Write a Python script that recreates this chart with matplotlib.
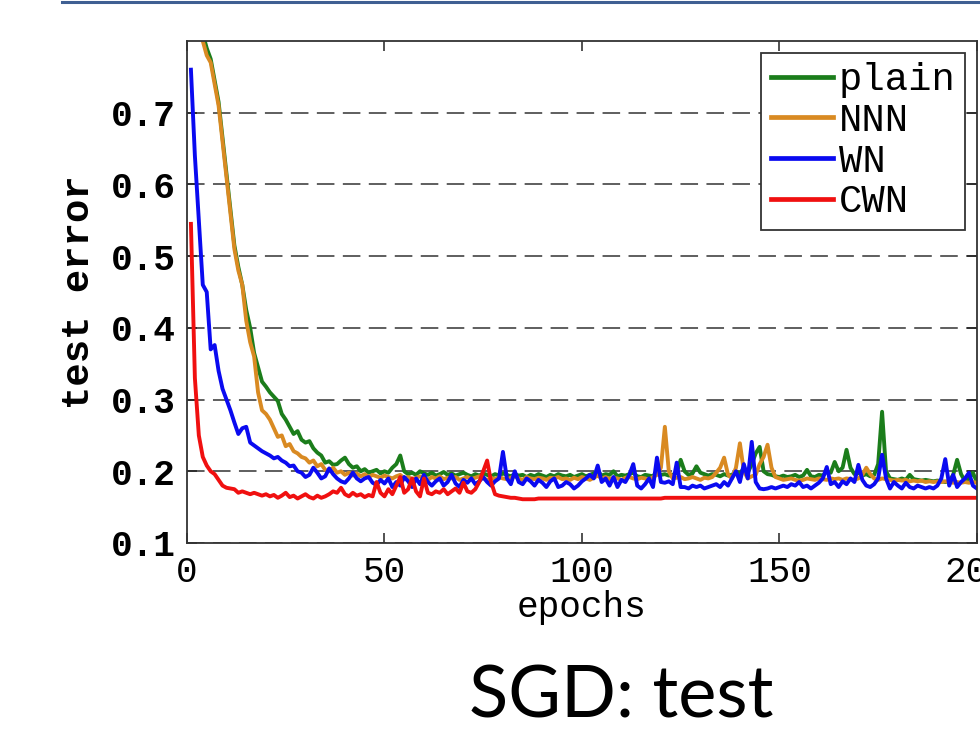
import numpy as np
import matplotlib
matplotlib.use('Agg')
import matplotlib.pyplot as plt
from matplotlib.lines import Line2D


###########################################################################
# data: test error per epoch (epochs 1..200)
###########################################################################
epochs = list(range(1, 201))

plain = [
    0.95, 0.90, 0.85, 0.81, 0.79, 0.775, 0.745, 0.715, 0.665, 0.615,
    0.565, 0.515, 0.485, 0.46, 0.425, 0.40, 0.365, 0.345, 0.325, 0.318,
    0.31, 0.304, 0.298, 0.28, 0.272, 0.262, 0.252, 0.256, 0.244, 0.24,
    0.242, 0.232, 0.226, 0.222, 0.212, 0.214, 0.209, 0.21, 0.215, 0.219,
    0.21, 0.205, 0.207, 0.20, 0.203, 0.198, 0.20, 0.202, 0.197, 0.20,
    0.198, 0.205, 0.21, 0.222, 0.20, 0.196, 0.198, 0.195, 0.20, 0.197,
    0.195, 0.198, 0.194, 0.196, 0.199, 0.195, 0.197, 0.194, 0.196, 0.198,
    0.195, 0.193, 0.196, 0.194, 0.197, 0.195, 0.193, 0.196, 0.194, 0.197,
    0.195, 0.193, 0.196, 0.194, 0.195, 0.192, 0.195, 0.193, 0.196, 0.194,
    0.192, 0.195, 0.193, 0.196, 0.194, 0.193, 0.195, 0.192, 0.194, 0.196,
    0.193, 0.195, 0.197, 0.20, 0.194, 0.196, 0.195, 0.20, 0.193, 0.195,
    0.194, 0.196, 0.198, 0.193, 0.192, 0.195, 0.194, 0.193, 0.20, 0.195,
    0.196, 0.194, 0.195, 0.198, 0.216, 0.20, 0.195, 0.197, 0.207, 0.198,
    0.196, 0.194, 0.196, 0.195, 0.193, 0.196, 0.194, 0.195, 0.20, 0.196,
    0.205, 0.198, 0.21, 0.225, 0.234, 0.20, 0.196, 0.195, 0.193, 0.192,
    0.194, 0.192, 0.193, 0.195, 0.192, 0.194, 0.202, 0.193, 0.192, 0.195,
    0.194, 0.20, 0.198, 0.213, 0.20, 0.205, 0.23, 0.205, 0.196, 0.198,
    0.194, 0.196, 0.193, 0.195, 0.21, 0.283, 0.20, 0.19, 0.189, 0.188,
    0.19, 0.188, 0.195, 0.189, 0.188, 0.187, 0.188, 0.187, 0.186, 0.187,
    0.186, 0.185, 0.186, 0.195, 0.216, 0.196, 0.186, 0.19, 0.198, 0.185,
]

nnn = [
    0.95, 0.90, 0.85, 0.80, 0.78, 0.77, 0.74, 0.71, 0.66, 0.61,
    0.56, 0.51, 0.48, 0.46, 0.41, 0.38, 0.36, 0.31, 0.285, 0.28,
    0.272, 0.26, 0.248, 0.25, 0.235, 0.238, 0.228, 0.225, 0.22, 0.218,
    0.212, 0.215, 0.207, 0.21, 0.202, 0.20, 0.205, 0.198, 0.20, 0.195,
    0.198, 0.194, 0.197, 0.193, 0.196, 0.192, 0.195, 0.193, 0.191, 0.194,
    0.192, 0.19, 0.193, 0.195, 0.19, 0.192, 0.189, 0.191, 0.193, 0.19,
    0.188, 0.192, 0.19, 0.193, 0.189, 0.191, 0.19, 0.192, 0.188, 0.19,
    0.192, 0.189, 0.191, 0.193, 0.19, 0.188, 0.191, 0.189, 0.192, 0.19,
    0.189, 0.191, 0.193, 0.19, 0.188, 0.192, 0.19, 0.189, 0.191, 0.19,
    0.188, 0.191, 0.19, 0.192, 0.189, 0.19, 0.188, 0.191, 0.189, 0.192,
    0.19, 0.188, 0.191, 0.194, 0.19, 0.192, 0.189, 0.191, 0.19, 0.188,
    0.191, 0.192, 0.19, 0.189, 0.191, 0.19, 0.188, 0.192, 0.195, 0.205,
    0.262, 0.20, 0.19, 0.191, 0.192, 0.189, 0.19, 0.192, 0.19, 0.188,
    0.191, 0.19, 0.192, 0.198, 0.205, 0.219, 0.195, 0.19, 0.205, 0.239,
    0.20, 0.19, 0.193, 0.195, 0.21, 0.22, 0.237, 0.205, 0.192, 0.19,
    0.188, 0.189, 0.19, 0.188, 0.187, 0.188, 0.19, 0.189, 0.188, 0.19,
    0.189, 0.188, 0.19, 0.189, 0.19, 0.188, 0.19, 0.189, 0.188, 0.19,
    0.195, 0.205, 0.196, 0.19, 0.188, 0.19, 0.189, 0.188, 0.187, 0.188,
    0.187, 0.188, 0.186, 0.187, 0.186, 0.187, 0.185, 0.186, 0.185, 0.186,
    0.185, 0.186, 0.185, 0.184, 0.185, 0.184, 0.185, 0.184, 0.185, 0.184,
]

wn = [
    0.76, 0.64, 0.55, 0.46, 0.45, 0.37, 0.376, 0.34, 0.315, 0.30,
    0.285, 0.268, 0.252, 0.26, 0.262, 0.24, 0.236, 0.232, 0.228, 0.225,
    0.222, 0.218, 0.22, 0.215, 0.212, 0.207, 0.208, 0.20, 0.198, 0.192,
    0.195, 0.205, 0.198, 0.19, 0.193, 0.204, 0.196, 0.19, 0.186, 0.184,
    0.19, 0.198, 0.19, 0.186, 0.19, 0.192, 0.184, 0.181, 0.188, 0.183,
    0.19, 0.178, 0.185, 0.18, 0.192, 0.186, 0.178, 0.19, 0.182, 0.195,
    0.185, 0.18, 0.186, 0.19, 0.18, 0.185, 0.195, 0.183, 0.178, 0.188,
    0.184, 0.19, 0.182, 0.186, 0.192, 0.185, 0.18, 0.186, 0.19, 0.227,
    0.19, 0.182, 0.20, 0.185, 0.182, 0.19, 0.186, 0.18, 0.188, 0.184,
    0.178, 0.186, 0.19, 0.178, 0.18, 0.185, 0.182, 0.176, 0.18, 0.186,
    0.19, 0.195, 0.19, 0.208, 0.185, 0.19, 0.18, 0.192, 0.178, 0.188,
    0.185, 0.195, 0.21, 0.18, 0.176, 0.182, 0.19, 0.178, 0.219, 0.185,
    0.184, 0.186, 0.182, 0.212, 0.178, 0.178, 0.176, 0.18, 0.178, 0.18,
    0.176, 0.178, 0.18, 0.182, 0.178, 0.185, 0.18, 0.19, 0.20, 0.185,
    0.21, 0.19, 0.241, 0.185, 0.176, 0.175, 0.176, 0.178, 0.176, 0.178,
    0.18, 0.178, 0.182, 0.18, 0.185, 0.178, 0.18, 0.176, 0.18, 0.184,
    0.19, 0.206, 0.182, 0.185, 0.178, 0.186, 0.182, 0.19, 0.185, 0.209,
    0.188, 0.18, 0.178, 0.182, 0.19, 0.223, 0.19, 0.176, 0.185, 0.18,
    0.176, 0.184, 0.178, 0.176, 0.18, 0.178, 0.176, 0.178, 0.176, 0.18,
    0.19, 0.217, 0.18, 0.195, 0.178, 0.185, 0.19, 0.198, 0.18, 0.176,
]

cwn = [
    0.545, 0.33, 0.25, 0.22, 0.208, 0.20, 0.196, 0.188, 0.18, 0.177,
    0.176, 0.175, 0.17, 0.172, 0.17, 0.168, 0.17, 0.168, 0.166, 0.168,
    0.165, 0.167, 0.163, 0.166, 0.17, 0.164, 0.166, 0.162, 0.165, 0.168,
    0.164, 0.162, 0.166, 0.163, 0.165, 0.168, 0.172, 0.17, 0.177, 0.168,
    0.165, 0.17, 0.166, 0.168, 0.164, 0.167, 0.165, 0.185, 0.17, 0.165,
    0.175, 0.168, 0.18, 0.192, 0.17, 0.175, 0.19, 0.172, 0.165, 0.19,
    0.17, 0.168, 0.172, 0.17, 0.175, 0.168, 0.172, 0.176, 0.17, 0.184,
    0.172, 0.17, 0.175, 0.185, 0.20, 0.215, 0.185, 0.168, 0.166, 0.165,
    0.164, 0.163, 0.163, 0.162, 0.161, 0.161, 0.161, 0.161, 0.162, 0.162,
    0.162, 0.162, 0.162, 0.162, 0.162, 0.162, 0.162, 0.162, 0.162, 0.162,
    0.162, 0.162, 0.162, 0.162, 0.162, 0.162, 0.162, 0.162, 0.162, 0.162,
    0.162, 0.162, 0.162, 0.162, 0.162, 0.162, 0.162, 0.162, 0.162, 0.162,
    0.163, 0.163, 0.163, 0.163, 0.163, 0.163, 0.163, 0.163, 0.163, 0.163,
    0.163, 0.163, 0.163, 0.163, 0.163, 0.163, 0.163, 0.163, 0.163, 0.163,
    0.163, 0.163, 0.163, 0.163, 0.163, 0.163, 0.163, 0.163, 0.163, 0.163,
    0.163, 0.163, 0.163, 0.163, 0.163, 0.163, 0.163, 0.163, 0.163, 0.163,
    0.163, 0.163, 0.163, 0.163, 0.163, 0.163, 0.163, 0.163, 0.163, 0.163,
    0.163, 0.163, 0.163, 0.163, 0.163, 0.163, 0.163, 0.163, 0.163, 0.163,
    0.163, 0.163, 0.163, 0.163, 0.163, 0.163, 0.163, 0.163, 0.163, 0.163,
    0.163, 0.163, 0.163, 0.163, 0.163, 0.163, 0.163, 0.163, 0.163, 0.163,
]

series = [('plain', plain, '#1b7d1b'),
          ('NNN', nnn, '#d98a22'),
          ('WN', wn, '#0a0af0'),
          ('CWN', cwn, '#f01010')]

xticks = [0, 50, 100, 150, 200]
yticks = [0.1, 0.2, 0.3, 0.4, 0.5, 0.6, 0.7]
mono = 'Liberation Mono'


###########################################################################
# figure
###########################################################################
fig = plt.figure(figsize=(9.8, 7.31), dpi=100)
ax = fig.add_axes([0.1908, 0.2572, 0.806, 0.6867])

for name, vals, col in series:
    ax.plot(epochs, vals, color=col, lw=2.8, label=name, solid_joinstyle='round')

ax.set_xlim(0, 200)
ax.set_ylim(0.1, 0.8)
ax.set_xticks(xticks)
ax.set_yticks(yticks)
ax.set_xticklabels([str(t) for t in xticks], fontfamily=mono, fontsize=26)
ax.set_yticklabels(['%.1f' % t for t in yticks], fontfamily=mono, fontsize=26,
                   fontweight='bold')
ax.tick_params(direction='in', length=7, width=1.1, top=True, right=True,
               color='#222222')
ax.tick_params(axis='x', pad=9)
ax.tick_params(axis='y', pad=8)

# dashed horizontal grid only
ax.yaxis.grid(True, linestyle=(0, (11.5, 5.5)), lw=1.1, color='#333333')
ax.set_axisbelow(True)
for s in ax.spines.values():
    s.set_linewidth(1.3)
    s.set_color('#333333')

ax.set_xlabel('epochs', fontfamily=mono, fontsize=26, labelpad=0)
ax.set_ylabel('test error', fontfamily=mono, fontsize=28, fontweight='bold',
              labelpad=10)

leg = ax.legend(loc='upper right', prop={'family': mono, 'size': 28},
                handlelength=1.6, handletextpad=0.15, labelspacing=0.12,
                borderpad=0.25, borderaxespad=0.3, fancybox=False,
                framealpha=1, edgecolor='#333333')
leg.get_frame().set_linewidth(1.3)
for h in leg.get_lines():
    h.set_linewidth(3.4)

# slide decoration: title underline and caption
fig.add_artist(Line2D([0.063, 1.0], [0.997, 0.997], transform=fig.transFigure,
                      color='#3f5f92', lw=2.2))
fig.text(0.634, 0.018, 'SGD: test', fontfamily='Lato', fontsize=52,
         ha='center', va='baseline')

fig.savefig('out.png', dpi=100)
